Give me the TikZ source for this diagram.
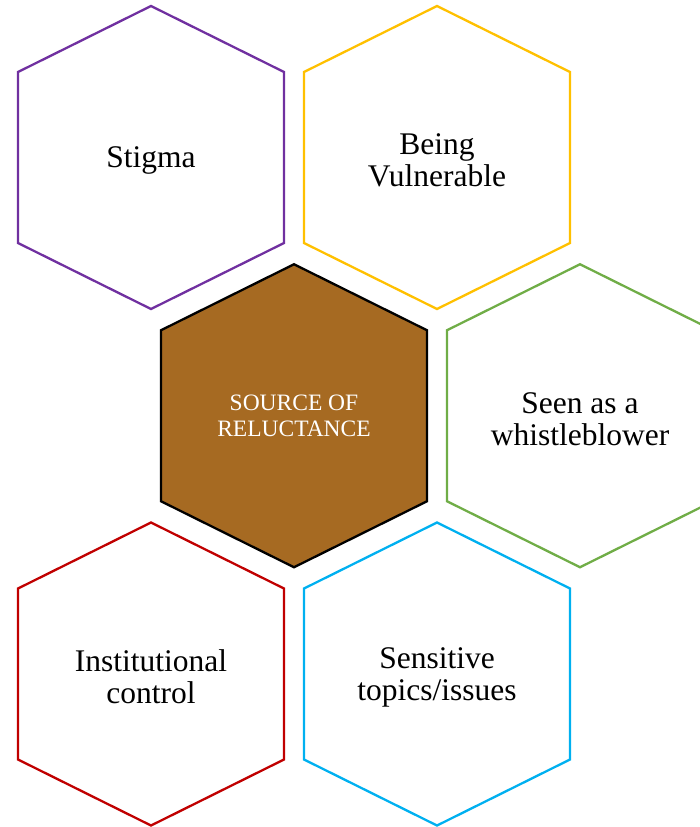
\documentclass[tikz,border=0pt]{standalone}
\usepackage{fontspec}
\setmainfont{Liberation Serif}
\definecolor{stigmapurple}{HTML}{7030A0}
\definecolor{vulngold}{HTML}{FFC000}
\definecolor{whistlegreen}{HTML}{70AD47}
\definecolor{controlred}{HTML}{C00000}
\definecolor{topicblue}{HTML}{00B0F0}
\definecolor{corebrown}{HTML}{A66A22}
\tikzset{
	hexline/.style={
		line width=2.3pt,
		line join=miter,
	},
	hextext/.style={
		align=center,
		text=black,
		yshift=-3pt,
		font=\fontsize{31.5}{32}\selectfont,
	},
	coretext/.style={
		align=center,
		text=white,
		font=\fontsize{23.5}{26}\selectfont,
	},
}
\newcommand{\drawhex}[2]{%
	\draw[hexline, #2, shift={#1}] (0,-151.5) -- (133,-85.5) -- (133,85.5) -- (0,151.5) -- (-133,85.5) -- (-133,-85.5) -- cycle;}

\begin{document}
\begin{tikzpicture}[x=1pt,y=-1pt]
		\newcommand{\dx}{143}
		\newcommand{\dy}{258.25}

		\clip (0,0) rectangle (700,827);
		\begin{scope}[shift={(151,157.5)}]

		% Outer hexagons
		\drawhex{(0,0)}{draw=stigmapurple}
		\drawhex{(2*\dx,0)}{draw=vulngold}
		\drawhex{(3*\dx,\dy)}{draw=whistlegreen}
		\drawhex{(0,2*\dy)}{draw=controlred}
		\drawhex{(2*\dx,2*\dy)}{draw=topicblue}

		% Core hexagon
		\drawhex{(\dx,\dy)}{draw=black, fill=corebrown}

		% Texts
		\node[hextext] (stigma) at (0,0) {Stigma} ;
		\node[hextext] (vulnerable) at (2*\dx,0) {Being\\Vulnerable} ;
		\node[coretext] (source) at (\dx,\dy) {SOURCE OF\\RELUCTANCE} ;
		\node[hextext] (whistle) at (3*\dx,\dy) {Seen as a\\whistleblower} ;
		\node[hextext] (control) at (0,2*\dy) {Institutional\\control} ;
		\node[hextext] (topics) at (2*\dx,2*\dy) {Sensitive\\topics/issues} ;

		\end{scope}
\end{tikzpicture}
\end{document}
